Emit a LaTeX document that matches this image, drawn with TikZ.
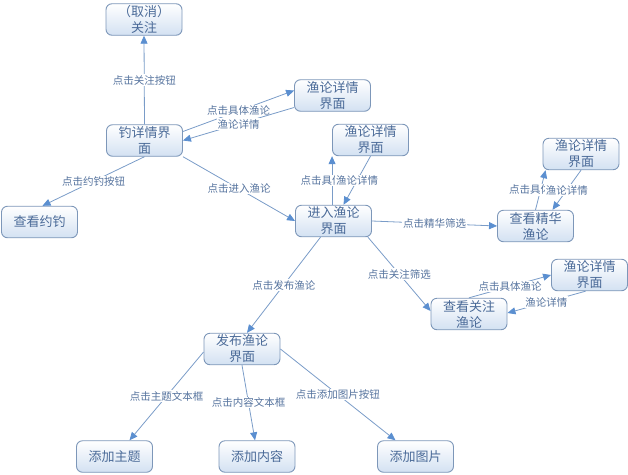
\documentclass[tikz,border=0pt]{standalone}
\usepackage{fontspec}
\setmainfont{Noto Sans CJK SC}
\usetikzlibrary{arrows.meta}
\definecolor{boxline}{HTML}{7D97B9}
\definecolor{boxshade}{HTML}{D3E1F2}
\definecolor{boxtext}{HTML}{4A6A98}
\definecolor{edgeline}{HTML}{7A9CC8}
\definecolor{edgetip}{HTML}{5B8FD0}
\definecolor{labeltext}{HTML}{55739E}
\tikzset{
  screen/.style={draw=boxline, line width=0.9pt, rounded corners=6pt,
    top color=white, bottom color=boxshade,
    minimum width=76pt, minimum height=31.5pt, inner sep=1pt,
    align=center, text=boxtext, font=\fontsize{13}{16}\selectfont},
  flow/.style={draw=edgeline, line width=0.8pt,
    -{Triangle[length=8pt,width=7pt,color=edgetip]}},
  act/.style={fill=white, inner sep=0.8pt, text=labeltext,
    font=\fontsize{10.5}{12}\selectfont}
}
\begin{document}
\begin{tikzpicture}[x=1pt,y=-1pt]
\useasboundingbox (0,0) rectangle (628,474);

% screens
\node[screen] (follow) at (144,19.5) {（取消）\\关注};
\node[screen] (fish)   at (144.5,140.5) {钓详情界\\面};
\node[screen] (detA)   at (332.5,95.5) {渔论详情\\界面};
\node[screen] (date)   at (39.5,222) {查看约钓};
\node[screen] (detB)   at (370.5,140) {渔论详情\\界面};
\node[screen] (forum)  at (333.5,221) {进入渔论\\界面};
\node[screen] (detC)   at (581,154) {渔论详情\\界面};
\node[screen] (best)   at (535.5,226) {查看精华\\渔论};
\node[screen] (detD)   at (589.5,275) {渔论详情\\界面};
\node[screen] (foll)   at (469,314) {查看关注\\渔论};
\node[screen] (post)   at (242,349) {发布渔论\\界面};
\node[screen] (topic)  at (114.5,456.5) {添加主题};
\node[screen] (body)   at (257,456.5) {添加内容};
\node[screen] (pics)   at (415.5,456.5) {添加图片};

% transitions from the fishing detail screen
\draw[flow] (fish.north) -- node[act] {点击关注按钮} (follow.south);
\draw[flow] ([yshift=9pt]fish.east) -- node[act] {点击具体渔论} ([yshift=5pt]detA.west);
\draw[flow] ([yshift=-12pt]detA.west) -- node[act] {渔论详情} (fish.east);
\draw[flow] (fish.south) -- node[act] {点击约钓按钮} ([xshift=3pt]date.north);
\draw[flow] (fish.south east) -- node[act] {点击进入渔论} (forum.west);

% transitions from the forum screen
\draw[flow] (forum.north -| detB.south west) -- node[act] {点击具体渔论} (detB.south west);
\draw[flow] (detB.south) -- node[act] {渔论详情} ([xshift=10pt]forum.north);
\draw[flow] (forum.east) -- node[act] {点击精华筛选} (best.west);
\draw[flow] (best.north) -- node[act] {点击具体渔论} ([xshift=3pt]detC.south west);
\draw[flow] (detC.south) -- node[act] {渔论详情} ([xshift=17pt]best.north);
\draw[flow] ([xshift=-4pt]forum.south east) -- node[act] {点击关注筛选} ([yshift=3pt]foll.west);
\draw[flow] (foll.north) -- node[act] {点击具体渔论} (detD.west);
\draw[flow] ([xshift=-4pt]detD.south) -- node[act] {渔论详情} ([yshift=1pt]foll.east);
\draw[flow] ([xshift=-13pt]forum.south) -- node[act] {点击发布渔论} ([xshift=5pt]post.north);

% transitions from the posting screen
\draw[flow] ([yshift=-3pt]post.west) -- node[act] {点击主题文本框} ([xshift=15pt]topic.north);
\draw[flow] (post.south) -- node[act] {点击内容文本框} ([xshift=-2pt]body.north);
\draw[flow] (post.east) -- node[act] {点击添加图片按钮} ([xshift=-20pt]pics.north);
\end{tikzpicture}
\end{document}
